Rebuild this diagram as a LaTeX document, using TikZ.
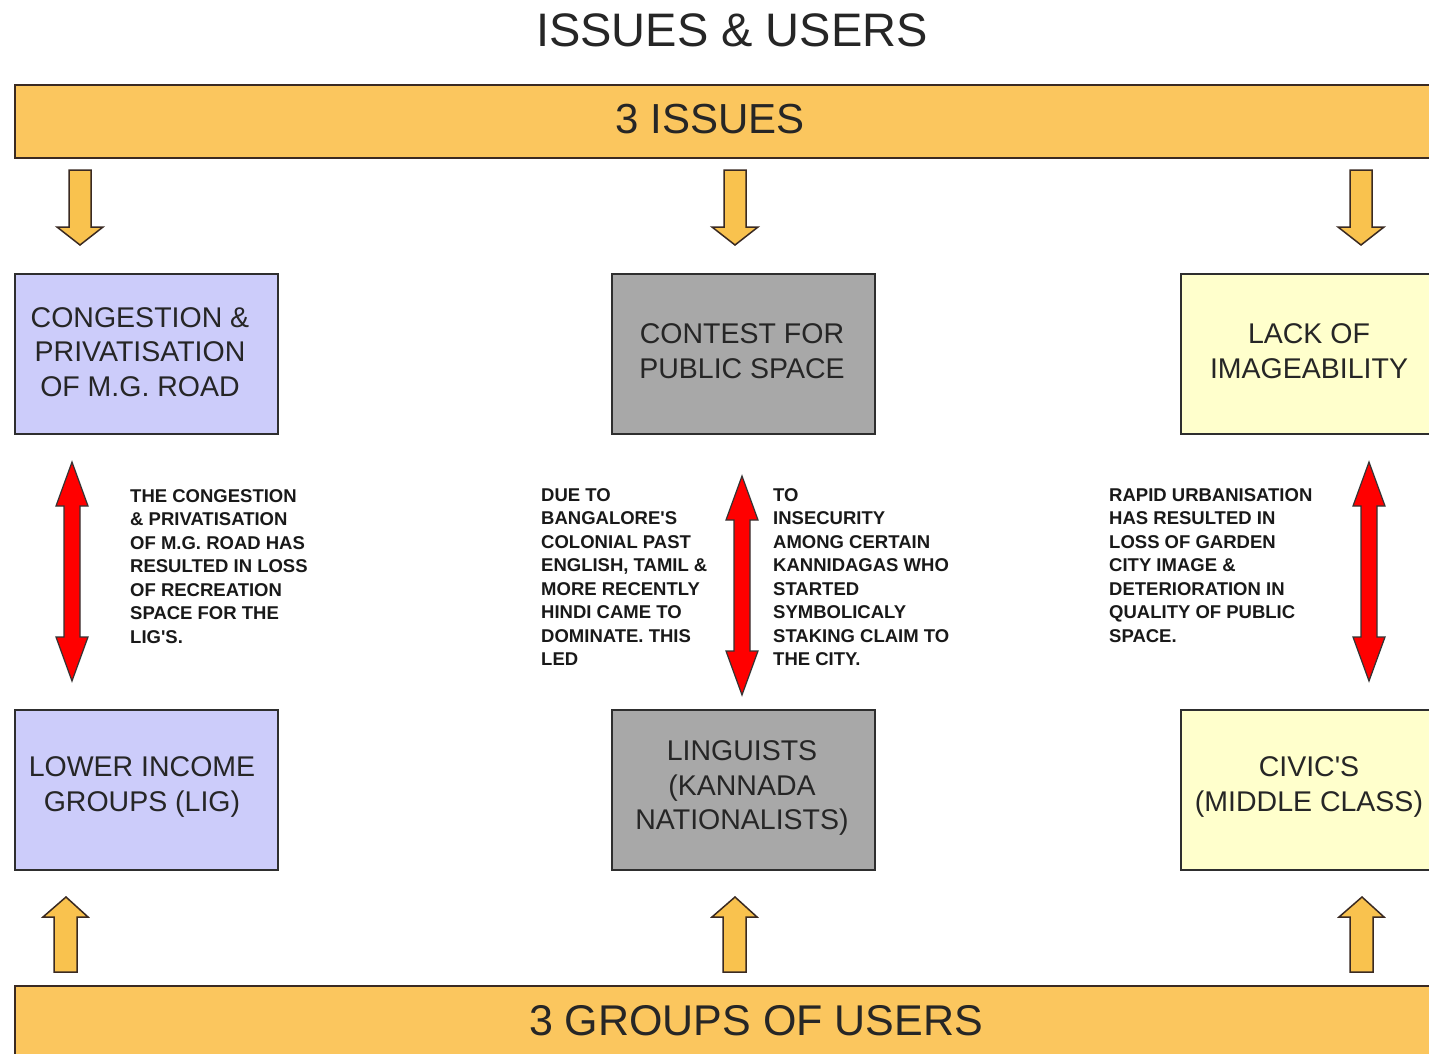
\documentclass[tikz,border=0pt]{standalone}
\usepackage{fontspec}
\setmainfont{Liberation Sans}
\begin{document}
\begin{tikzpicture}[x=1pt,y=-1pt,
  bar/.style={draw=barline,line width=2pt,fill=barfill,inner sep=0pt,anchor=north west},
  bigbox/.style={draw=boxline,line width=1.6pt,inner sep=0pt,anchor=north west,minimum width=263pt,minimum height=160pt},
  boxtext/.style={align=center,font=\fontsize{28.5}{34.5}\selectfont,text=black!85},
  note/.style={align=left,anchor=north west,inner sep=0pt,font=\fontsize{18.5}{23.5}\selectfont\bfseries,text=black!90},
  blockarrow/.style={draw=barline,line width=1.5pt,fill=arrowfill,line join=miter},
  redarrow/.style={draw=black!80,line width=1.2pt,fill=red,line join=miter}]
\definecolor{barfill}{HTML}{FBC65E}
\definecolor{barline}{HTML}{3A2A22}
\definecolor{arrowfill}{HTML}{F9C24E}
\definecolor{boxline}{HTML}{2E2E2E}
\definecolor{lav}{HTML}{CCCCFA}
\definecolor{grey}{HTML}{A8A8A8}
\definecolor{lyel}{HTML}{FFFFCC}
\clip (0,0) rectangle (1429,1054);
\fill[white] (0,0) rectangle (1429,1054);
% title
\node[font=\fontsize{47}{50}\selectfont,text=black!85] (title) at (732,30) {ISSUES \& USERS};
% bars
\node[bar,minimum width=1440pt,minimum height=73pt] (top) at (14,84) {};
\node[font=\fontsize{42}{44}\selectfont,text=black!85] (toplbl) at (710,119) {3 ISSUES};
\node[bar,minimum width=1440pt,minimum height=90pt] (bot) at (14,985) {};
\node[font=\fontsize{43}{45}\selectfont,text=black!85] (botlbl) at (756,1021) {3 GROUPS OF USERS};
% row 1 boxes
\node[bigbox,fill=lav] (b1) at (14,273) {};
\node[bigbox,fill=grey] (b2) at (611,273) {};
\node[bigbox,fill=lyel,minimum width=280pt] (b3) at (1180,273) {};
\node[boxtext] (t1) at (140,352) {CONGESTION \&\\PRIVATISATION\\OF M.G. ROAD};
\node[boxtext] (t2) at (742,351) {CONTEST FOR\\PUBLIC SPACE};
\node[boxtext] (t3) at (1309,351) {LACK OF\\IMAGEABILITY};
% row 2 boxes
\node[bigbox,fill=lav] (c1) at (14,709) {};
\node[bigbox,fill=grey] (c2) at (611,709) {};
\node[bigbox,fill=lyel,minimum width=280pt] (c3) at (1180,709) {};
\node[boxtext] (u1) at (142,787) {LOWER INCOME\\GROUPS (LIG)};
\node[boxtext] (u2) at (742,788) {LINGUISTS\\(KANNADA\\NATIONALISTS)};
\node[boxtext] (u3) at (1309,787) {CIVIC\textquotesingle S\\(MIDDLE CLASS)};
% down block arrows
\foreach \x in {80,735,1361}{
  \draw[blockarrow] (\x-11,170) -- (\x+11,170) -- (\x+11,227) -- (\x+23,227) -- (\x,245) -- (\x-23,227) -- (\x-11,227) -- cycle;
}
% up block arrows
\foreach \x in {66,735,1362}{
  \draw[blockarrow] (\x-12,972) -- (\x+11,972) -- (\x+11,917) -- (\x+22,917) -- (\x,897) -- (\x-23,917) -- (\x-12,917) -- cycle;
}
% red double arrows
\foreach \x/\ya/\yb in {72/462/681,742/476/695,1369/462/681}{
  \draw[redarrow] (\x,\ya) -- (\x+16,\ya+44) -- (\x+8,\ya+44) -- (\x+8,\yb-44) -- (\x+16,\yb-44) -- (\x,\yb) -- (\x-16,\yb-44) -- (\x-8,\yb-44) -- (\x-8,\ya+44) -- (\x-16,\ya+44) -- cycle;
}
% notes
\node[note] (n1) at (130,489) {THE CONGESTION\\\& PRIVATISATION\\OF M.G. ROAD HAS\\RESULTED IN LOSS\\OF RECREATION\\SPACE FOR THE\\LIG\textquotesingle S.};
\node[note] (n2) at (541,488) {DUE TO\\BANGALORE\textquotesingle S\\COLONIAL PAST\\ENGLISH, TAMIL \&\\MORE RECENTLY\\HINDI CAME TO\\DOMINATE. THIS\\LED};
\node[note] (n3) at (773,488) {TO\\INSECURITY\\AMONG CERTAIN\\KANNIDAGAS WHO\\STARTED\\SYMBOLICALY\\STAKING CLAIM TO\\THE CITY.};
\node[note] (n4) at (1109,488) {RAPID URBANISATION\\HAS RESULTED IN\\LOSS OF GARDEN\\CITY IMAGE \&\\DETERIORATION IN\\QUALITY OF PUBLIC\\SPACE.};
\end{tikzpicture}
\end{document}
